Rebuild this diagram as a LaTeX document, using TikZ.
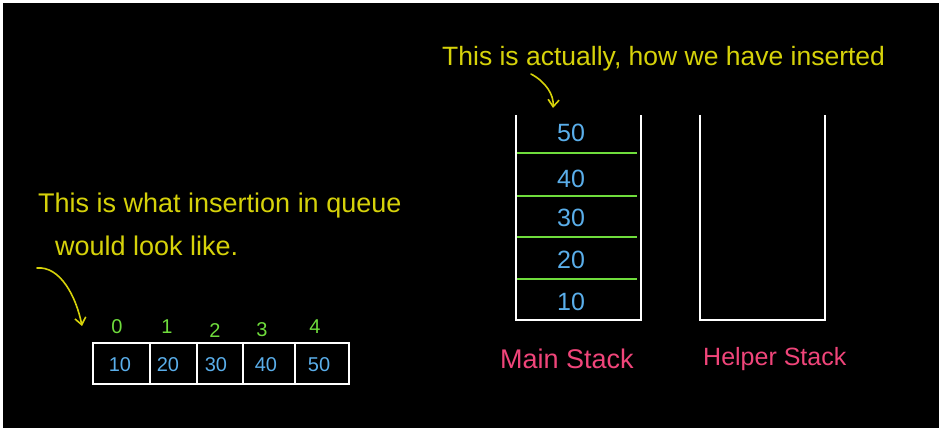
\documentclass[tikz,border=0pt]{standalone}
\usepackage{fontspec}
\setmainfont{Liberation Sans}
\usetikzlibrary{arrows.meta}
\definecolor{hyel}{HTML}{D6D20A}
\definecolor{hgrn}{HTML}{6FDC3C}
\definecolor{hblu}{HTML}{5AAEEA}
\definecolor{hpnk}{HTML}{F0457A}
\tikzset{
  note/.style={text=hyel, font=\fontsize{27}{30}\selectfont, inner sep=0pt, anchor=west},
  pointer/.style={draw=hyel, line width=1.6pt, line cap=round, -{Straight Barb[length=7pt,width=11pt,line width=1.6pt]}},
  wall/.style={draw=white, line width=2pt},
  sep/.style={draw=hgrn, line width=2pt},
  val/.style={text=hblu, font=\fontsize{25}{27}\selectfont, inner sep=0pt},
  cellval/.style={text=hblu, font=\fontsize{20}{22}\selectfont, inner sep=0pt},
  idx/.style={text=hgrn, font=\fontsize{20}{22}\selectfont, inner sep=0pt},
  lbl/.style={text=hpnk, font=\fontsize{25}{27}\selectfont, inner sep=0pt, anchor=west}
}
\begin{document}
\begin{tikzpicture}[x=1pt,y=-1pt]
\useasboundingbox (0,0) rectangle (943,430);
\fill[white] (0,0) rectangle (943,430);
\fill[black] (3,3) rectangle (939,428);

% top note and its arrow
\node[note, font=\fontsize{26.5}{29}\selectfont] (topnote) at (442,59) {This is actually, how we have inserted};
\coordinate (ta) at (531,74);
\coordinate (tb) at (553,108);
\draw[pointer] (ta) .. controls (546,82) and (554,95) .. (tb);

% left note and its arrow
\node[note] (l1) at (38,206) {This is what insertion in queue};
\node[note] (l2) at (55,246) {would look like.};
\coordinate (la) at (37,268);
\coordinate (lb) at (82,326);
\draw[pointer] (la) .. controls (60,266) and (76,296) .. (lb);

% array
\draw[wall] (93,343) rectangle (349,384);
\foreach \x in {150,197,243,295} \draw[wall] (\x,343) -- (\x,384);
\foreach \x/\v/\n in {120/10/a0,168/20/a1,216/30/a2,266/40/a3,319/50/a4}
  \node[cellval] (\n) at (\x,365) {\v};
\foreach \x/\y/\i/\n in {117/327/0/i0,167/327/1/i1,215/331/2/i2,262/330/3/i3,315/327/4/i4}
  \node[idx] (\n) at (\x,\y) {\i};

% main stack
\draw[wall] (516,115) -- (516,320) -- (641,320) -- (641,115);
\foreach \y in {153,196,237,279} \draw[sep] (517,\y) -- (637,\y);
\foreach \y/\v/\n in {133/50/s5,179/40/s4,218/30/s3,260/20/s2,302/10/s1}
  \node[val] (\n) at (571,\y) {\v};

% helper stack
\draw[wall] (700,115) -- (700,320) -- (825,320) -- (825,115);

% labels
\node[lbl, font=\fontsize{27}{29}\selectfont] (mainlbl) at (500,359) {Main Stack};
\node[lbl] (helplbl) at (703,359) {Helper Stack};
\end{tikzpicture}
\end{document}
